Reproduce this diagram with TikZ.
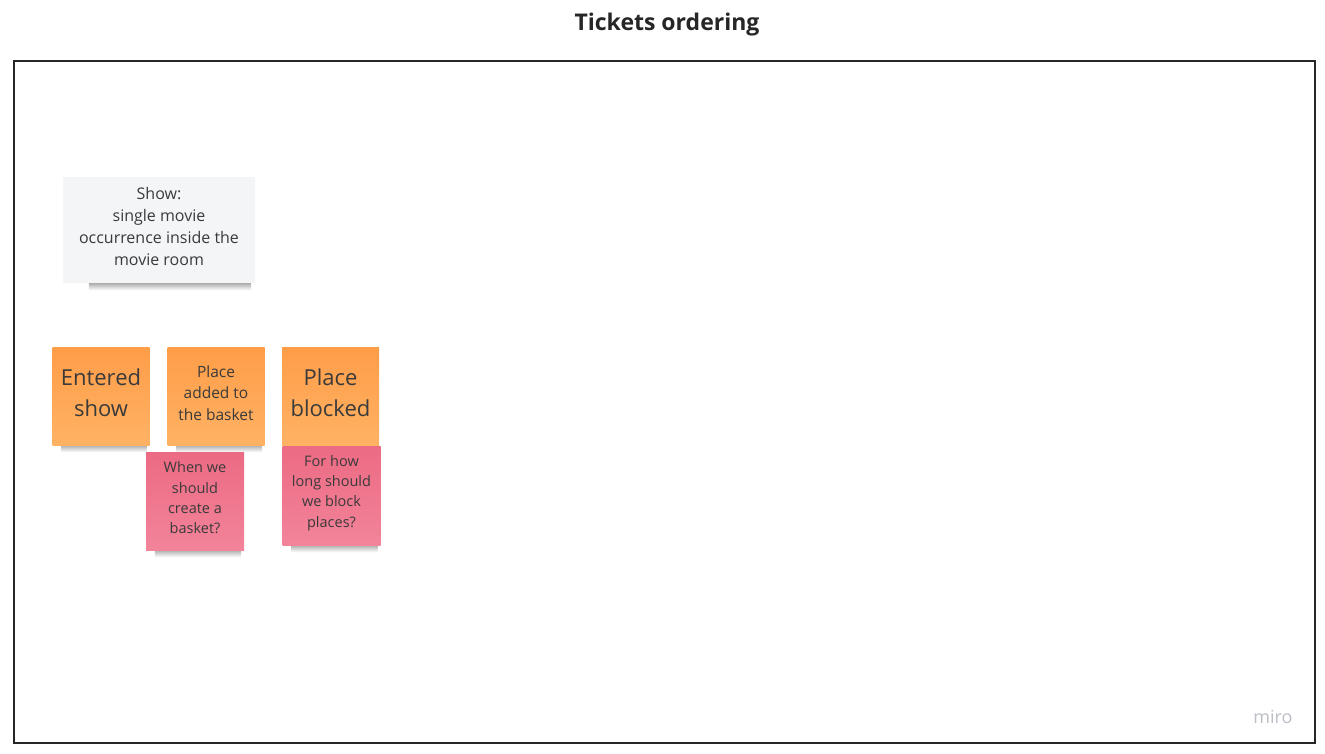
\documentclass[tikz,border=0pt]{standalone}
\usepackage{fontspec}
\setmainfont{Open Sans}
\usetikzlibrary{positioning,backgrounds}

\definecolor{inkgray}{HTML}{3A3A3A}
\definecolor{notegray}{HTML}{F4F5F7}
\definecolor{noteorange}{HTML}{FF9D48}
\definecolor{noteorangelt}{HTML}{FFB264}
\definecolor{notepink}{HTML}{EC6A84}
\definecolor{notepinklt}{HTML}{F28499}
\definecolor{logogray}{HTML}{BCBFC8}

\begin{document}
\begin{tikzpicture}[x=1pt, y=-1pt,
    sticky/.style={rectangle, inner sep=0pt},
    notetext/.style={align=center, text=inkgray, inner sep=0pt},
    orangenote/.style={sticky, minimum width=97pt, minimum height=98pt,
        top color=noteorange, bottom color=noteorangelt},
    pinknote/.style={sticky, minimum width=98pt, minimum height=98pt,
        top color=notepink, bottom color=notepinklt},
    noteshadow/.style={top color=black!60, bottom color=white, opacity=0.6}]
    \useasboundingbox (0,0) rectangle (1325,754);
    % title and frame
    \node[font=\bfseries\fontsize{23}{27}\selectfont, text=black!85] (title) at (667,25) {Tickets ordering};
    \draw[line width=2pt, black!85] (14,61) rectangle (1315,743);
    \node[font=\fontsize{18}{21}\selectfont, text=logogray] (logo) at (1273,717) {miro};
    % notes
    \node[sticky, fill=notegray, minimum width=192pt, minimum height=106pt] (show) at (159,230) {};
    \node[orangenote] (entered) at (101,396) {};
    \node[orangenote] (added) at (216,396) {};
    \node[orangenote] (blocked) at (330.5,396) {};
    \node[pinknote] (basketq) at (195,501) {};
    \node[pinknote, minimum height=99pt] (blockq) at (331.5,495.5) {};
    % texts
    \node[notetext, font=\fontsize{16}{22}\selectfont] (showtxt) at ([yshift=3.5pt]show.center)
        {Show:\\single movie\\occurrence inside the\\movie room};
    \node[notetext, font=\fontsize{22}{31}\selectfont] (enteredtxt) at ([yshift=3pt]entered.center)
        {Entered\\show};
    \node[notetext, font=\fontsize{15.5}{21.5}\selectfont] (addedtxt) at ([yshift=3pt]added.center)
        {Place\\added to\\the basket};
    \node[notetext, font=\fontsize{22}{31}\selectfont] (blockedtxt) at ([yshift=3pt]blocked.center)
        {Place\\blocked};
    \node[notetext, font=\fontsize{14.5}{20.3}\selectfont] (basketqtxt) at ([yshift=3pt]basketq.center)
        {When we\\should\\create a\\basket?};
    \node[notetext, font=\fontsize{14.5}{20.3}\selectfont] (blockqtxt) at ([yshift=2.5pt]blockq.center)
        {For how\\long should\\we block\\places?};
    % shadows
    \begin{scope}[on background layer]
        \fill[white] (0,0) rectangle (1325,754);
        \shade[noteshadow] ([xshift=26pt,yshift=1pt]show.south west) rectangle ([xshift=-4pt,yshift=-7pt]show.south east);
        \foreach \n in {entered,added,blocked,basketq,blockq}
            \shade[noteshadow] ([xshift=9pt,yshift=1pt]\n.south west) rectangle ([xshift=-3pt,yshift=-7pt]\n.south east);
    \end{scope}
\end{tikzpicture}
\end{document}
